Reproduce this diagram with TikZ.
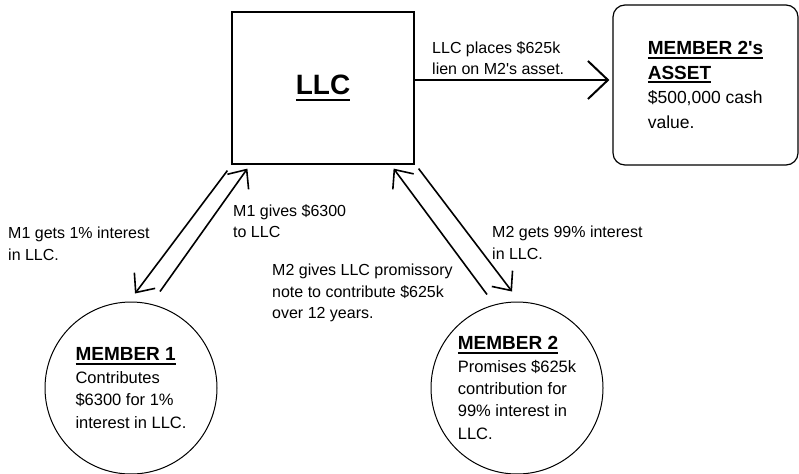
\documentclass[tikz,border=0pt]{standalone}
\usepackage{fontspec}
\setmainfont{Liberation Sans}
\usetikzlibrary{arrows.meta}

\newcommand\ulbox[2][4pt]{\setbox0\hbox{#2}\rlap{\copy0}\rule[-#1]{\wd0}{2pt}}

\tikzset{
  note/.style={inner sep=0pt, align=left, anchor=north west, font=\fontsize{16}{21.5}\selectfont},
  member/.style={draw, circle, line width=1pt, minimum size=172pt, inner sep=0pt, align=left, font=\fontsize{16.5}{22.4}\selectfont},
  barb/.style={line width=1.6pt, -{Straight Barb[length=15pt,width=26pt]}},
}

\begin{document}
\begin{tikzpicture}[x=1pt,y=-1pt]
\useasboundingbox (0,0) rectangle (799,473);
%LLC und Vermoegen
\node[draw, line width=1.2pt, minimum width=182pt, minimum height=152pt, font=\fontsize{28}{30}\selectfont\bfseries] (llc) at (323,88) {\ulbox[6pt]{LLC}};
\node[draw, line width=1.2pt, rounded corners=12pt, minimum width=185pt, minimum height=160pt, align=left, font=\fontsize{17.5}{24.5}\selectfont] (asset) at (705.5,85) {{\fontsize{19}{24.5}\selectfont\bfseries\ulbox{MEMBER 2\textquotesingle s}}\\{\fontsize{19}{24.5}\selectfont\bfseries\ulbox{ASSET}}\\\$500,000 cash\\value.};
%Mitglieder
\node[member] (m1) at (131,388) {{\fontsize{19}{22.4}\selectfont\bfseries\ulbox{MEMBER 1}}\\Contributes\\\$6300 for 1\%\\interest in LLC.};
\node[member] (m2) at (517,388) {{\fontsize{19}{22.4}\selectfont\bfseries\ulbox{MEMBER 2}}\\Promises \$625k\\contribution for\\99\% interest in\\LLC.};
%Pfeile
\draw[line width=2pt, -{Straight Barb[length=20pt,width=38pt]}] ([shift={(0,-8)}]llc.east) -- ([shift={(-3,-5)}]asset.west);
\draw[barb] ([shift={(-4,6)}]llc.south west) -- ([shift={(4,-8)}]m1.north);
\draw[barb] ([shift={(29,-10)}]m1.north) -- ([shift={(16,4)}]llc.south west);
\draw[barb] ([shift={(-30,-7)}]m2.north) -- ([shift={(-21,4)}]llc.south east);
\draw[barb] ([shift={(4,4)}]llc.south east) -- ([shift={(-5,-10)}]m2.north);
%Text
\node[note] (lien) at (432,41) {LLC places \$625k\\lien on M2\textquotesingle s asset.};
\node[note] (m1get) at (8,227) {M1 gets 1\% interest\\in LLC.};
\node[note] (m1give) at (233,204) {M1 gives \$6300\\to LLC};
\node[note] (m2give) at (272,264) {M2 gives LLC promissory\\note to contribute \$625k\\over 12 years.};
\node[note] (m2get) at (492,226) {M2 gets 99\% interest\\in LLC.};
\end{tikzpicture}
\end{document}
